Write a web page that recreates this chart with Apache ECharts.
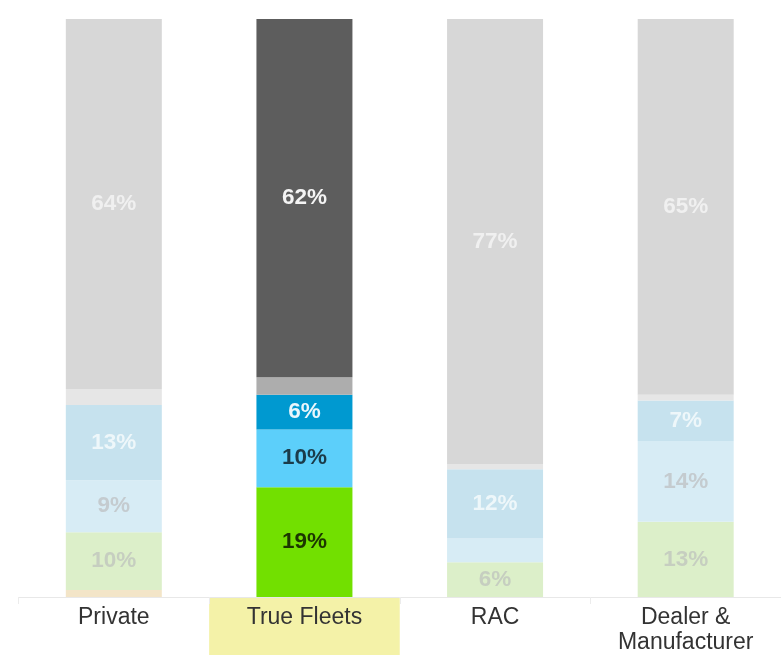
<!DOCTYPE html>
<html>
<head>
<meta charset="utf-8">
<style>
  html, body { margin: 0; padding: 0; background: #ffffff; }
  #chart { width: 781px; height: 655px; }
</style>
<script src="https://cdn.jsdelivr.net/npm/echarts@6/dist/echarts.min.js"></script>
</head>
<body>
<div id="chart"></div>
<script>
// Channel mix by customer segment, share of registrations (%), stacked bottom to top
const categories = ['Private', 'True Fleets', 'RAC', 'Dealer &\nManufacturer'];
const otherShare     = [1.2, 0, 0, 0];
const greenShare     = [10, 19, 6, 13];
const cyanShare      = [9, 10, 4.1, 14];
const blueShare      = [13, 6, 12, 7];
const lightGreyShare = [2.8, 3, 0.9, 1];
const greyShare      = [64, 62, 77, 65];

// The focus segment is drawn in full colour, the others faded
const focusCategory = 'True Fleets';

const layers = [
  { name: 'Other',      data: otherShare,     strong: '#f0b040', faded: '#f3e5c8', textStrong: '#333333', textFaded: '#d0c8b8' },
  { name: 'Green',      data: greenShare,     strong: '#72e000', faded: '#dcefc9', textStrong: '#1c3600', textFaded: '#c6cec0' },
  { name: 'Cyan',       data: cyanShare,      strong: '#5ccffa', faded: '#d7ecf5', textStrong: '#1b3c4a', textFaded: '#c4cbcf' },
  { name: 'Blue',       data: blueShare,      strong: '#0099d0', faded: '#c6e2ee', textStrong: '#eaf6fc', textFaded: '#eef7fa' },
  { name: 'Light grey', data: lightGreyShare, strong: '#adadad', faded: '#e6e6e6', textStrong: '#ffffff', textFaded: '#f4f4f4' },
  { name: 'Grey',       data: greyShare,      strong: '#5d5d5d', faded: '#d7d7d7', textStrong: '#f4f4f4', textFaded: '#f0f0f0' }
];

const FONT = '"Liberation Sans", Arial, Helvetica, sans-serif';

const series = layers.map(layer => ({
  name: layer.name,
  type: 'bar',
  stack: 'share',
  barWidth: 96,
  data: layer.data.map((v, i) => {
    const focus = categories[i] === focusCategory;
    return {
      value: v,
      itemStyle: { color: focus ? layer.strong : layer.faded },
      label: { color: focus ? layer.textStrong : layer.textFaded }
    };
  }),
  label: {
    show: true,
    position: 'inside',
    fontFamily: FONT,
    fontSize: 22.5,
    fontWeight: 'bold',
    formatter: p => (p.value >= 5 ? Math.round(p.value) + '%' : '')
  },
  emphasis: { disabled: true }
}));

const chart = echarts.init(document.getElementById('chart'), null, { renderer: 'canvas' });

chart.setOption({
  animation: false,
  backgroundColor: '#ffffff',
  grid: { left: 18.5, right: -1.5, top: 19, bottom: 57, containLabel: false },
  xAxis: {
    type: 'category',
    data: categories,
    axisLine: { show: true, lineStyle: { color: '#e8e8e8', width: 1 } },
    axisTick: { show: true, length: 7, lineStyle: { color: '#ececec' } },
    axisLabel: {
      fontFamily: FONT,
      fontSize: 23,
      color: '#333333',
      margin: 8,
      lineHeight: 25,
      interval: 0
    }
  },
  yAxis: {
    type: 'value',
    min: 0,
    max: 100,
    show: false
  },
  series: series
});

// Shade the label band of the focus category, aligned to its band on the axis
function drawFocusBand() {
  const idx = categories.indexOf(focusCategory);
  const c0 = chart.convertToPixel({ xAxisIndex: 0 }, categories[0]);
  const c1 = chart.convertToPixel({ xAxisIndex: 0 }, categories[1]);
  const band = c1 - c0;
  const center = chart.convertToPixel({ xAxisIndex: 0 }, categories[idx]);
  const axisY = chart.convertToPixel({ yAxisIndex: 0 }, 0);
  chart.setOption({
    graphic: [{
      type: 'rect',
      z: -10,
      silent: true,
      shape: { x: center - band / 2, y: axisY + 1, width: band, height: chart.getHeight() - axisY - 1 },
      style: { fill: '#f4f2a8' }
    }]
  });
}
drawFocusBand();
</script>
</body>
</html>
